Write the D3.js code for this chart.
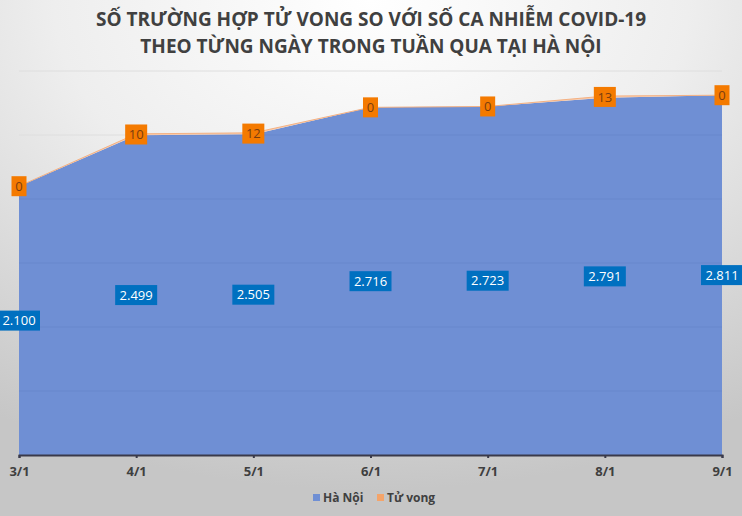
<!DOCTYPE html>
<html><head><meta charset="utf-8">
<script src="https://cdn.jsdelivr.net/npm/d3@7"></script>
<style>
html,body{margin:0;padding:0;}
svg{display:block;}
</style>
</head><body>
<svg id="chart" width="742" height="516"></svg>
<script>
const titleLines = ["SỐ TRƯỜNG HỢP TỬ VONG SO VỚI SỐ CA NHIỄM COVID-19", "THEO TỪNG NGÀY TRONG TUẦN QUA TẠI HÀ NỘI"];
const categories = ["3/1", "4/1", "5/1", "6/1", "7/1", "8/1", "9/1"];
const seriesNames = ["Hà Nội", "Tử vong"];
const haNoi = [2100, 2499, 2505, 2716, 2723, 2791, 2811];
const tuVong = [0, 10, 12, 0, 0, 13, 0];
const yTicks = [0, 500, 1000, 1500, 2000, 2500, 3000];

const svg = d3.select("#chart");
const W = 742, H = 516;
const m = {left: 19, right: 20, top: 71, bottom: 61};

const defs = svg.append("defs");
const rg = defs.append("radialGradient").attr("id","bg")
  .attr("cx","50%").attr("cy","0%").attr("r","95%").attr("fx","50%").attr("fy","0%");
rg.append("stop").attr("offset","0%").attr("stop-color","#ffffff");
rg.append("stop").attr("offset","45%").attr("stop-color","#eeeeee");
rg.append("stop").attr("offset","100%").attr("stop-color","#c6c6c6");
svg.append("rect").attr("width",W).attr("height",H).attr("fill","url(#bg)");

const x = d3.scalePoint().domain(categories).range([m.left, W - m.right]);
const y = d3.scaleLinear().domain([0, 3000]).range([H - m.bottom, m.top]);

// gridlines (behind)
svg.append("g").selectAll("line").data(yTicks.slice(1)).join("line")
  .attr("x1", m.left).attr("x2", W - m.right)
  .attr("y1", d => y(d)).attr("y2", d => y(d))
  .attr("stroke", "#dedede").attr("stroke-width", 1);

const rows = categories.map((c,i) => ({cat:c, "Hà Nội":haNoi[i], "Tử vong":tuVong[i]}));
const stack = d3.stack().keys(seriesNames)(rows);

const area = d3.area().x(d => x(d.data.cat)).y0(d => y(d[0])).y1(d => y(d[1]));
const fills = ["#6f8fd4", "#f8cbad"];
svg.append("g").selectAll("path").data(stack).join("path")
  .attr("d", area).attr("fill", (d,i) => fills[i]);
svg.append("path").datum(stack[1])
  .attr("d", d3.line().x(d => x(d.data.cat)).y(d => y(d[1])))
  .attr("fill","none").attr("stroke","#f4b183").attr("stroke-width",1);

// gridlines over the blue area only
defs.append("clipPath").attr("id","areaClip").append("path").datum(stack[0]).attr("d", area);
svg.append("g").attr("clip-path","url(#areaClip)").selectAll("line").data(yTicks.slice(1)).join("line")
  .attr("x1", m.left).attr("x2", W - m.right)
  .attr("y1", d => y(d)).attr("y2", d => y(d))
  .attr("stroke", "#5f7fc4").attr("stroke-opacity", 0.45).attr("stroke-width", 1);

// x axis
const xAxis = svg.append("g").attr("transform", `translate(0,${y(0)})`)
  .call(d3.axisBottom(x).tickSize(3).tickPadding(9));
xAxis.select(".domain").attr("stroke","#3a3a4a").attr("stroke-width",2);
xAxis.selectAll(".tick line").attr("stroke","#3a3a4a").attr("stroke-width",2);
xAxis.selectAll(".tick text").attr("fill","#3f3f3f")
  .style("font-family","'Open Sans', sans-serif").style("font-size","13px").style("font-weight","bold");

const loc = d3.formatLocale({decimal:",", thousands:".", grouping:[3], currency:["","₫"]});
const fmt = loc.format(",d");

const hnLab = svg.append("g").selectAll("g").data(stack[0]).join("g")
  .attr("transform", d => `translate(${x(d.data.cat)},${y((d[0]+d[1])/2)})`);
hnLab.append("rect").attr("x",-21).attr("y",-10).attr("width",42).attr("height",20).attr("fill","#0070c0");
hnLab.append("text").attr("text-anchor","middle").attr("dy","0.36em")
  .attr("fill","#ffffff").style("font-family","'Open Sans', sans-serif").style("font-size","13px")
  .text(d => fmt(d.data["Hà Nội"]));

const tvLab = svg.append("g").selectAll("g").data(stack[1]).join("g")
  .attr("transform", d => `translate(${x(d.data.cat)},${y((d[0]+d[1])/2)})`);
tvLab.each(function(d){
  const g = d3.select(this);
  const t = fmt(d.data["Tử vong"]);
  const w = t.length > 1 ? 22 : 15;
  g.append("rect").attr("x",-w/2).attr("y",-10).attr("width",w).attr("height",20).attr("fill","#f47a00");
  g.append("text").attr("text-anchor","middle").attr("dy","0.36em")
    .attr("fill","#7a3d10").style("font-family","'Open Sans', sans-serif").style("font-size","13px").text(t);
});

svg.append("g").selectAll("text").data(titleLines).join("text")
  .attr("x", W/2).attr("y", (d,i) => 26 + i*27)
  .attr("text-anchor","middle").attr("fill","#404040")
  .style("font-family","'Open Sans', sans-serif").style("font-size","19px").style("font-weight","bold")
  .text(d => d);

const legColors = ["#6f8fd4", "#f4a46a"];
const leg = svg.append("g").attr("transform","translate(313,498)");
const legX = [0, 64];
seriesNames.forEach((n,i) => {
  leg.append("rect").attr("x",legX[i]).attr("y",-4).attr("width",7).attr("height",7).attr("fill",legColors[i]);
  leg.append("text").attr("x",legX[i]+10).attr("y",0).attr("dy","0.35em")
    .attr("fill","#404040").style("font-family","'Open Sans', sans-serif").style("font-size","12px").style("font-weight","bold")
    .text(n);
});
</script>
</body></html>
